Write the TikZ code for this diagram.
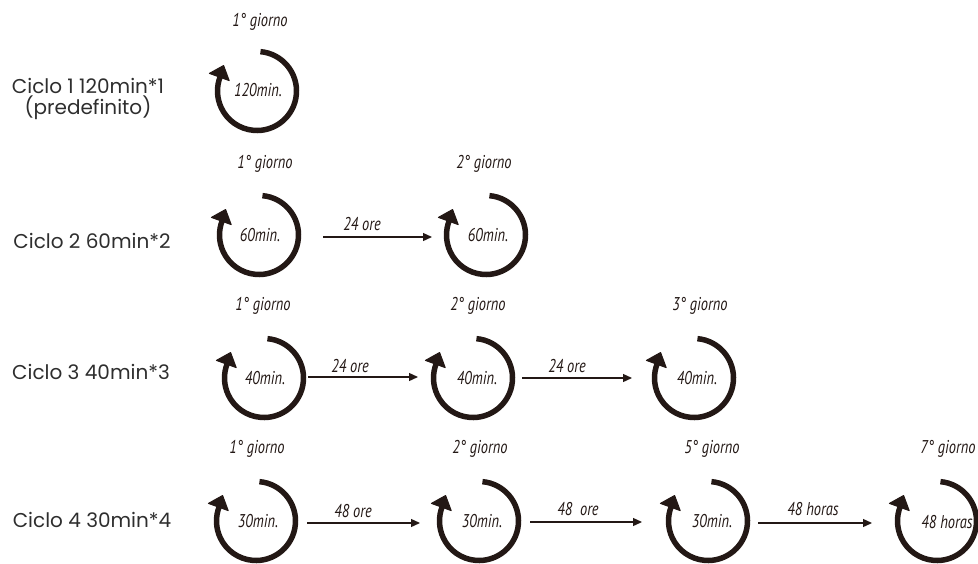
\documentclass[tikz,border=0pt]{standalone}
\usepackage{fontspec}
\usetikzlibrary{arrows.meta}
\newfontfamily\itfont{PT Sans}[FakeStretch=0.78]
\newfontfamily\lblfont{Poppins}
\definecolor{ink}{HTML}{231815}
\definecolor{txt}{HTML}{2E2E2E}
\begin{document}
\begin{tikzpicture}[x=1pt,y=-1pt,
  ital/.style={font=\itfont\itshape\fontsize{18.5}{20}\selectfont, text=ink, inner sep=0pt, anchor=base},
  lbl/.style={font=\lblfont\fontsize{20}{21}\selectfont, text=txt, align=center, inner sep=0pt, anchor=base},
  conn/.style={draw=ink, line width=1.3pt, -{Triangle[length=9pt,width=8pt]}},
  cycarc/.style={draw=ink, line width=5.5pt},
  cychead/.style={fill=ink, draw=ink, line width=1pt, line join=round},
  cyc/.pic={\path[cycarc] (-85:39.5) arc[start angle=-85,end angle=202,radius=39.5];
            \path[cychead] (-47.6,-17.6) -- (-27.8,-10.4) -- (-33.4,-25.5) -- cycle;}
]
\useasboundingbox (0,0) rectangle (978,563);

% row labels
\node[lbl] (l1) at (88,114) {Ciclo 1 120min*1\\(predefinito)};
\node[lbl] (l2) at (92,248) {Ciclo 2 60min*2};
\node[lbl] (l3) at (91,379) {Ciclo 3 40min*3};
\node[lbl] (l4) at (92,527) {Ciclo 4 30min*4};

% circle centres
\coordinate (c1) at (257,91);
\coordinate (c21) at (259,235);
\coordinate (c22) at (486,235);
\coordinate (c31) at (264,378);
\coordinate (c32) at (473,378);
\coordinate (c33) at (694,378);
\coordinate (c41) at (256,521);
\coordinate (c42) at (479,521);
\coordinate (c43) at (708,521);
\coordinate (c44) at (937,521);

\foreach \c in {c1,c21,c22,c31,c32,c33,c41,c42,c43,c44} {\pic at (\c) {cyc};}

% texts in circles
\node[ital] (t1) at (258,96) {120min.};
\node[ital] (t21) at (260,241) {60min.};
\node[ital] (t22) at (488,241) {60min.};
\node[ital] (t31) at (265,384) {40min.};
\node[ital] (t32) at (477,384) {40min.};
\node[ital] (t33) at (697,384) {40min.};
\node[ital] (t41) at (258,527) {30min.};
\node[ital] (t42) at (482,527) {30min.};
\node[ital] (t43) at (712,527) {30min.};
\node[ital] (t44) at (947,528) {48 horas};

% day labels
\node[ital] (d1) at (260,26) {1° giorno};
\node[ital] (d21) at (265,168) {1° giorno};
\node[ital] (d22) at (484,168) {2° giorno};
\node[ital] (d31) at (263,310) {1° giorno};
\node[ital] (d32) at (478,310) {2° giorno};
\node[ital] (d33) at (700,310) {3° giorno};
\node[ital] (d41) at (257,453) {1° giorno};
\node[ital] (d42) at (480,453) {2° giorno};
\node[ital] (d43) at (712,453) {5° giorno};
\node[ital] (d44) at (948,453) {7° giorno};

% connectors
\draw[conn] ([shift={(64,2)}]c21) -- ([shift={(-54,2)}]c22);
\draw[conn] ([shift={(44,-1)}]c31) -- ([shift={(-55,-1)}]c32);
\draw[conn] ([shift={(49,0)}]c32) -- ([shift={(-62,0)}]c33);
\draw[conn] ([shift={(51,2)}]c41) -- ([shift={(-59,2)}]c42);
\draw[conn] ([shift={(51,1)}]c42) -- ([shift={(-66,1)}]c43);
\draw[conn] ([shift={(50,2)}]c43) -- ([shift={(-65,2)}]c44);

% connector labels
\node[ital] (a21) at (362,230) {24 ore};
\node[ital] (a31) at (350,372) {24 ore};
\node[ital] (a32) at (567,372) {24 ore};
\node[ital] (a41) at (353,517) {48 ore};
\node[ital] (a42) at (578,515) {48\ \ ore};
\node[ital] (a43) at (813,515) {48 horas};
\end{tikzpicture}
\end{document}
